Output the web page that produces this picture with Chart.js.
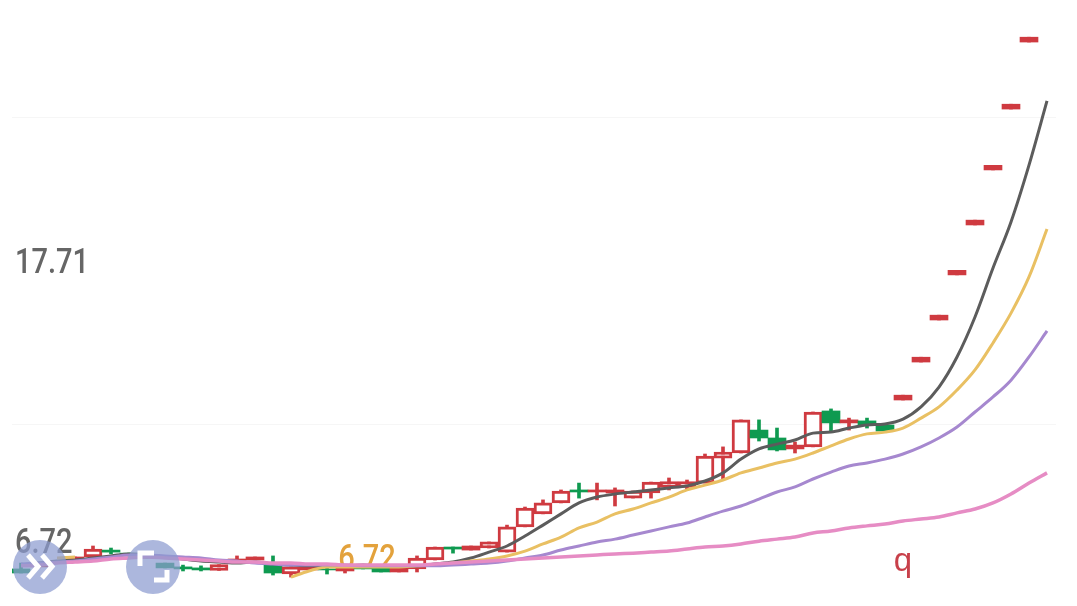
<!DOCTYPE html>
<html>
<head>
<meta charset="utf-8">
<script src="https://cdn.jsdelivr.net/npm/chart.js@4/dist/chart.umd.min.js"></script>
<style>
html,body{margin:0;padding:0;background:#fff;width:1077px;height:606px;overflow:hidden}
#wrap{position:relative;width:1077px;height:606px}
canvas{position:absolute;left:0;top:0}
.btn{position:absolute;top:540px;width:54px;height:54px;border-radius:50%;background:rgba(140,155,208,.72)}
.btn svg{position:absolute;left:0;top:0}
</style>
</head>
<body>
<div id="wrap">
<canvas id="c" width="1077" height="606"></canvas>
<div class="btn" style="left:13px"><svg width="54" height="54" fill="none" stroke="#fff" stroke-width="5"><path d="M15 15 L25 26.500 L15 38"/><path d="M29 15 L39 26.500 L29 38"/></svg></div>
<div class="btn" style="left:126px"><svg width="54" height="54" fill="none" stroke="#fff" stroke-width="5"><path d="M28 13 H14 V26"/><path d="M28 40 H41 V30"/></svg></div>
</div>
<script>
const opens = [5.62,5.70,5.85,6.01,6.09,6.36,6.24,6.17,5.85,5.70,5.66,5.56,5.93,5.97,5.77,5.42,5.58,5.62,5.54,5.70,5.70,5.50,5.62,5.97,6.48,6.36,6.44,6.28,7.27,7.78,8.21,8.72,8.64,8.60,8.40,8.60,8.82,8.82,8.99,9.97,10.17,11.07,10.76,10.33,10.41,11.82,11.35,11.43,11.27,12.25,13.74,15.39,17.16,19.12,21.28,23.67,26.30,null];
const closes = [5.46,5.81,5.93,6.09,6.40,6.28,6.13,6.05,5.66,5.62,5.58,5.79,6.01,6.09,5.46,5.70,5.70,5.58,5.66,5.62,5.50,5.66,6.05,6.48,6.40,6.52,6.68,7.27,8.01,8.21,8.68,8.64,8.72,8.72,8.68,9.03,9.05,9.05,10.05,10.21,11.47,10.76,10.29,10.48,11.78,11.35,11.47,11.27,11.03,12.44,13.93,15.58,17.34,19.31,21.46,23.86,26.49,null];
const highs = [5.85,5.85,5.93,6.09,6.52,6.44,6.24,6.17,5.85,5.77,5.74,5.79,6.13,6.09,6.13,5.70,5.70,5.77,5.66,5.70,5.70,5.66,6.13,6.48,6.48,6.52,6.68,7.34,8.05,8.33,8.72,8.99,8.99,8.80,8.68,9.03,9.19,9.11,10.13,10.41,11.47,11.47,11.15,10.60,11.78,11.90,11.54,11.54,11.27,12.44,13.93,15.58,17.34,19.31,21.46,23.86,26.49,null];
const lows = [5.46,5.66,5.85,6.01,6.09,6.21,6.13,6.05,5.66,5.54,5.54,5.56,5.93,5.97,5.38,5.30,5.58,5.42,5.46,5.62,5.50,5.50,5.50,5.97,6.24,6.36,6.44,6.28,7.27,7.78,8.21,8.40,8.33,8.09,8.40,8.40,8.72,8.72,8.99,9.11,10.17,10.64,10.25,10.17,10.41,11.03,11.07,11.15,11.03,12.25,13.74,15.39,17.16,19.12,21.28,23.67,26.30,null];
const maDark = [5.77,5.85,5.93,5.97,6.05,6.13,6.21,6.17,6.09,6.01,5.93,5.89,5.85,5.89,5.81,5.77,5.74,5.74,5.74,5.77,5.74,5.74,5.74,5.81,5.89,6.05,6.28,6.52,6.91,7.34,7.78,8.21,8.44,8.56,8.64,8.72,8.80,8.88,9.07,9.39,9.93,10.33,10.52,10.68,10.95,10.99,11.15,11.27,11.31,11.50,11.98,12.76,13.94,15.51,17.43,19.24,21.47,23.99];
const maYellow = [null,null,6.05,6.09,null,null,null,null,null,null,null,null,null,null,null,5.30,5.54,5.70,5.70,5.70,5.70,5.70,5.74,5.77,5.85,5.93,6.01,6.13,6.32,6.60,6.87,7.23,7.46,7.78,7.97,8.21,8.44,8.72,8.91,9.11,9.39,9.58,9.78,9.93,10.17,10.45,10.72,10.92,10.99,11.15,11.54,11.98,12.64,13.43,14.49,15.66,17.08,18.96];
const maPurple = [5.81,5.85,5.89,5.93,6.01,6.09,6.17,6.17,6.13,6.09,6.05,5.97,5.93,5.85,5.81,5.77,5.77,5.77,5.77,5.74,5.74,5.74,5.74,5.74,5.77,5.81,5.85,5.93,6.05,6.17,6.36,6.52,6.68,6.79,6.95,7.11,7.27,7.42,7.66,7.89,8.09,8.36,8.64,8.84,9.15,9.42,9.66,9.78,9.93,10.13,10.41,10.76,11.19,11.78,12.37,13.03,13.94,14.96];
const maPink = [5.74,5.77,5.85,5.89,5.93,6.01,6.05,6.09,6.05,6.01,5.97,5.93,5.89,5.89,5.85,5.85,5.81,5.81,5.77,5.77,5.77,5.77,5.77,5.81,5.85,5.89,5.93,5.97,6.01,6.05,6.09,6.13,6.17,6.21,6.24,6.28,6.32,6.40,6.48,6.52,6.60,6.71,6.79,6.87,7.03,7.11,7.23,7.31,7.38,7.50,7.58,7.66,7.82,7.97,8.21,8.56,8.99,9.39];
const priceTicks = [6.72,17.71];
const gridValues = [11.27,23.32];
const categories = maDark.map((_,i)=>String(i+1));

const RED='#cf3a40', GREEN='#0f9a50';
const isUp = i => closes[i] >= opens[i];
const color = i => isUp(i) ? RED : GREEN;
const hollow = i => isUp(i) && Math.abs(closes[i]-opens[i]) > 0.2;

function narrowText(ctx,text,x,y,align){
  ctx.save();
  ctx.translate(x,y+3);
  ctx.scale(0.83,1);
  ctx.textAlign=align; ctx.textBaseline='middle';
  ctx.fillText(text,0,0);
  ctx.restore();
}

const notes = {
  id:'notes',
  beforeDatasetsDraw(chart){
    const {ctx,scales:{x,y}} = chart;
    ctx.save();
    ctx.fillStyle='#e3a23c';
    ctx.font='500 35px Roboto,sans-serif';
    narrowText(ctx,'6.72',x.getPixelForValue(19)+4,y.getPixelForValue(6.09),'center');
    ctx.fillStyle='#c8404a';
    ctx.font='500 33px "Liberation Sans",sans-serif';
    ctx.textAlign='center'; ctx.textBaseline='middle';
    ctx.fillText('q',x.getPixelForValue(49),y.getPixelForValue(5.89));
    ctx.fillStyle='#666';
    ctx.font='500 35px Roboto,sans-serif';
    priceTicks.forEach(v=>narrowText(ctx,v.toFixed(2),15,y.getPixelForValue(v),'left'));
    ctx.restore();
  }
};

const line = (data,col,order,w)=>({type:'line',data,borderColor:col,borderWidth:w,pointRadius:0,cubicInterpolationMode:'monotone',spanGaps:false,order,fill:false});

new Chart(document.getElementById('c'),{
  data:{
    labels:categories,
    datasets:[
      {type:'bar',data:lows.map((l,i)=>l===null?null:[l,highs[i]]),barThickness:3,grouped:false,
       backgroundColor:c=>color(c.dataIndex),borderWidth:0,order:6},
      {type:'bar',data:opens.map((o,i)=>o===null?null:[o,closes[i]]),barThickness:18,grouped:false,
       backgroundColor:c=>hollow(c.dataIndex)?'#fff':color(c.dataIndex),
       borderColor:c=>color(c.dataIndex),
       borderWidth:c=>hollow(c.dataIndex)?3:0,borderSkipped:false,order:5},
      line(maPink,'#e68cc4',1,3.5),
      line(maPurple,'#a688cf',2,3),
      line(maYellow,'#e9c063',3,3),
      line(maDark,'#5c5c5c',4,3)
    ]
  },
  options:{
    responsive:false,animation:false,devicePixelRatio:1,
    layout:{autoPadding:false,padding:{left:12,right:21,top:0,bottom:0}},
    plugins:{legend:{display:false},tooltip:{enabled:false}},
    scales:{
      x:{type:'category',display:false,offset:true,stacked:false},
      y:{type:'linear',min:4.165,max:27.95,position:'left',
        afterBuildTicks(a){a.ticks=gridValues.map(value=>({value}));},
        afterFit(a){a.width=0;a.paddingTop=0;a.paddingBottom=0;},
        border:{display:false},
        grid:{drawTicks:false,color:'#f6f6f6'},
        ticks:{display:false}
      }
    }
  },
  plugins:[notes]
});
</script>
</body>
</html>
